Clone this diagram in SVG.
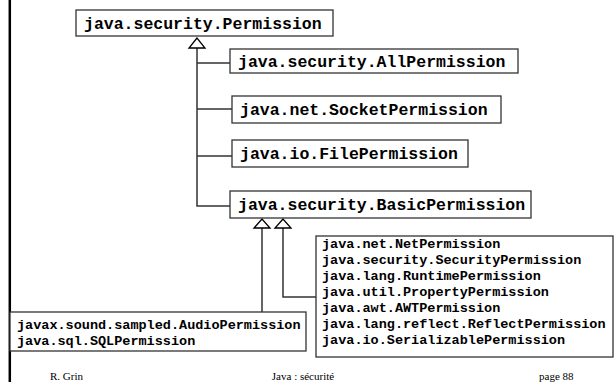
<svg xmlns="http://www.w3.org/2000/svg" width="616" height="382" viewBox="0 0 616 382">
<defs>
<style>
.box{fill:#fff;stroke:#333;stroke-width:1.3}
.big{font-family:"Liberation Mono","Courier New",monospace;font-weight:bold;font-size:16.5px;fill:#000}
.small{font-family:"Liberation Mono","Courier New",monospace;font-weight:bold;font-size:13.5px;fill:#000}
.foot{font-family:"Liberation Serif","Times New Roman",serif;font-size:11px;fill:#000}
.conn{fill:none;stroke:#333;stroke-width:1.5}
.tri{fill:#fff;stroke:#000;stroke-width:1.3}
</style>
</defs>
<rect x="0" y="0" width="616" height="382" fill="#fff"/>
<line x1="9.8" y1="0" x2="9.8" y2="382" stroke="#000" stroke-width="2.5"/>
<g id="connectors">
<path class="conn" d="M197,48 V206 H230 M197,63 H230 M197,109 H232 M197,156 H232"/>
<polygon class="tri" points="197,38 189,48 205,48"/>
<path class="conn" d="M262,228 V312 M283,228 V297 H316"/>
<polygon class="tri" points="262,219 254,228 270,228"/>
<polygon class="tri" points="283,219 275,228 291,228"/>
</g>
<g id="permission">
<rect class="box" x="76" y="10" width="257" height="26"/>
<text class="big" x="84" y="28.5">java.security.Permission</text>
</g>
<g id="allpermission">
<rect class="box" x="230" y="49" width="288" height="24"/>
<text class="big" x="238" y="66.5">java.security.AllPermission</text>
</g>
<g id="socketpermission">
<rect class="box" x="232" y="96" width="269" height="27"/>
<text class="big" x="240" y="114.5">java.net.SocketPermission</text>
</g>
<g id="filepermission">
<rect class="box" x="232" y="140" width="236" height="27"/>
<text class="big" x="240" y="158.5">java.io.FilePermission</text>
</g>
<g id="basicpermission">
<rect class="box" x="230" y="191" width="301" height="27"/>
<text class="big" x="238" y="209.5">java.security.BasicPermission</text>
</g>
<g id="audiosql">
<rect class="box" x="10" y="312" width="296" height="39"/>
<text class="small" x="17" y="328.5">javax.sound.sampled.AudioPermission</text>
<text class="small" x="17" y="344.5">java.sql.SQLPermission</text>
</g>
<g id="others">
<rect class="box" x="316" y="236" width="297" height="121"/>
<text class="small" x="322" y="247.5">java.net.NetPermission</text>
<text class="small" x="322" y="263.5">java.security.SecurityPermission</text>
<text class="small" x="322" y="279.5">java.lang.RuntimePermission</text>
<text class="small" x="322" y="295.5">java.util.PropertyPermission</text>
<text class="small" x="322" y="311.5">java.awt.AWTPermission</text>
<text class="small" x="322" y="327.5">java.lang.reflect.ReflectPermission</text>
<text class="small" x="322" y="343.5">java.io.SerializablePermission</text>
</g>
<g id="footer">
<text class="foot" x="50" y="380">R. Grin</text>
<text class="foot" x="303" y="380" text-anchor="middle">Java : sécurité</text>
<text class="foot" x="539" y="380">page 88</text>
</g>
</svg>
